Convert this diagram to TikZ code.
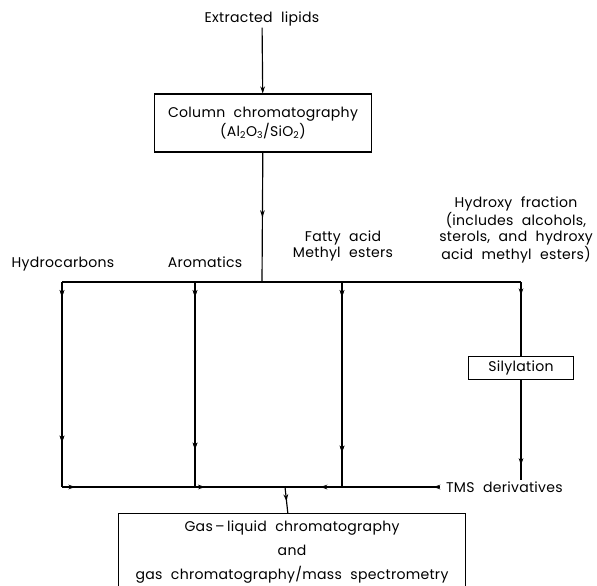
\documentclass[tikz,border=0pt]{standalone}
\usepackage{fontspec}
\setmainfont{Poppins}[WordSpace=2.1, LetterSpace=2]
\usetikzlibrary{positioning,decorations.markings,arrows.meta}

\begin{document}
\begin{tikzpicture}[
	x=0.03cm, y=-0.03cm,
	font=\fontsize{12pt}{13.6pt}\selectfont
	]
\tikzset{
	box/.style = { rectangle, draw=black, line width=1pt, text centered, inner sep=2pt },
	label/.style = { align=center, inner sep=1pt },
	flow/.style = { line width=1pt },
	tip/.style = { -{Stealth[length=6pt,width=4pt]} },
	headAt/.style = { postaction={decorate}, decoration={markings, mark=at position #1 with {\arrow{Stealth[length=6pt,width=4pt]}}} }
}
\useasboundingbox (0,0) rectangle (597,585);

	% top part
	\node (lipids) [label] at (262,19) {Extracted lipids};
	\node (column) [box, minimum width=6.51cm, minimum height=1.74cm, align=center] at (263,123)
		{Column chromatography\\(Al\textsubscript{2}O\textsubscript{3}/SiO\textsubscript{2})};

	% fractions
	\node (hydrocarbons) [label] at (63,264) {Hydrocarbons};
	\node (aromatics) [label] at (205,262) {Aromatics};
	\node (fattyAcid) [label] at (343,246) {Fatty acid\\Methyl esters};
	\node (hydroxy) [label] at (516,230) {Hydroxy fraction\\(includes alcohols,\\sterols, and hydroxy\\acid methyl esters)};
	\node (silylation) [box, minimum width=3.15cm, minimum height=0.69cm] at (521,368) {Silylation};
	\node (tms) [label, anchor=west, inner xsep=5pt] at (440,487) {TMS derivatives};

	% final analysis
	\node (gasLiquid) [box, minimum width=10.41cm, minimum height=2.3cm, align=center, anchor=north] at (292,513)
		{Gas\,--\,liquid chromatography\\[7pt]and\\[7pt]gas chromatography/mass spectrometry};

	% junctions
	\coordinate (split) at (262,282);
	\coordinate (hydroTop) at (62,282);
	\coordinate (aromTop) at (195,282);
	\coordinate (fattyTop) at (342,282);
	\coordinate (hydroxyTop) at (521,282);
	\coordinate (hydroBot) at (62,487);
	\coordinate (aromBot) at (195,487);
	\coordinate (fattyBot) at (342,487);
	\coordinate (merge) at (285,487);

	% paths
	\draw [flow, tip] (lipids) -- (column);
	\draw [flow, headAt=0.5] (column) -- (split);
	\draw [flow] (hydroTop) -- (hydroxyTop);

	\draw [flow, headAt=0.45cm, headAt=-1.33cm] (hydroTop) -- (hydroBot);
	\draw [flow, headAt=0.45cm, headAt=-1.12cm] (aromTop) -- (aromBot);
	\draw [flow, headAt=0.45cm, headAt=-1.03cm] (fattyTop) -- (fattyBot);
	\draw [flow, headAt=0.4cm] (hydroxyTop) -- (silylation);
	\draw [flow, headAt=-0.45cm] (silylation) -- (tms.north -| silylation);

	\draw [flow, headAt=0.4cm] (hydroBot) -- (aromBot);
	\draw [flow, headAt=0.3cm] (aromBot) -- (merge);
	\draw [flow, headAt=0.2cm] (tms.west) -- (fattyBot);
	\draw [flow, headAt=0.65cm] (fattyBot) -- (merge);
	\draw [flow, headAt=0.55] (merge) -- (gasLiquid);
\end{tikzpicture}
\end{document}
